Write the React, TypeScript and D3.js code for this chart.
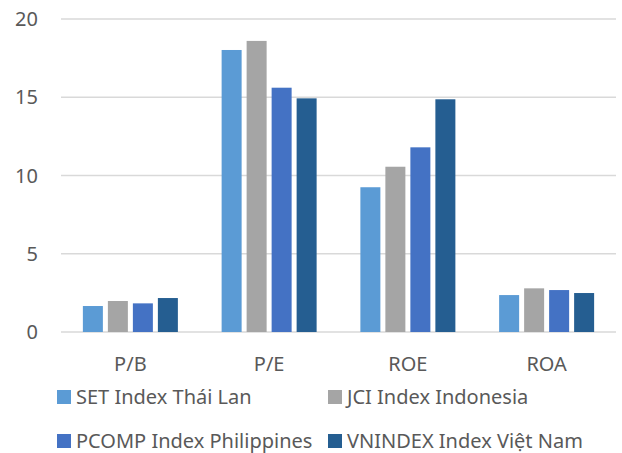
import { useEffect, useRef } from 'react'
import * as d3 from 'd3'

const categories = ['P/B', 'P/E', 'ROE', 'ROA']
const seriesNames = [
  'SET Index Thái Lan',
  'JCI Index Indonesia',
  'PCOMP Index Philippines',
  'VNINDEX Index Việt Nam'
]
const setThai = [1.66, 18.02, 9.25, 2.36]
const jciIndo = [1.98, 18.6, 10.56, 2.79]
const pcompPhil = [1.83, 15.61, 11.8, 2.68]
const vnIndex = [2.17, 14.93, 14.87, 2.49]
const yTicks = [0, 5, 10, 15, 20]
const colors = ['#5B9BD5', '#A5A5A5', '#4472C4', '#255E91']

const W = 622
const H = 453
const FONT = '"Noto Sans", "Open Sans", sans-serif'
const FS = '20px'

export default function App() {
  const svgRef = useRef<SVGSVGElement>(null)

  useEffect(() => {
    if (!svgRef.current) return
    const svg = d3.select(svgRef.current)
    svg.selectAll('*').remove()

    const series = [setThai, jciIndo, pcompPhil, vnIndex]
    const left = 61
    const right = 616
    const top = 19
    const bottom = 332

    const x0 = d3.scaleBand().domain(categories).range([left, right]).padding(0)
    const groupW = 95
    const pad = (x0.bandwidth() - groupW) / 2
    const x1 = d3
      .scaleBand()
      .domain(seriesNames)
      .range([pad, pad + groupW])
      .paddingInner(0.2)
      .paddingOuter(0)
    const y = d3.scaleLinear().domain([0, 20]).range([bottom, top])

    // 격자선
    svg
      .append('g')
      .selectAll('line')
      .data(yTicks)
      .enter()
      .append('line')
      .attr('x1', left)
      .attr('x2', right)
      .attr('y1', d => y(d))
      .attr('y2', d => y(d))
      .attr('stroke', '#D9D9D9')
      .attr('stroke-width', 1.3)

    // y축 레이블
    svg
      .append('g')
      .selectAll('text')
      .data(yTicks)
      .enter()
      .append('text')
      .attr('x', 38)
      .attr('y', d => y(d))
      .attr('dy', '0.35em')
      .attr('text-anchor', 'end')
      .style('font-family', FONT)
      .style('font-size', FS)
      .style('fill', '#595959')
      .text(d => d)

    // 막대
    const groups = svg
      .append('g')
      .selectAll('g')
      .data(categories)
      .enter()
      .append('g')
      .attr('transform', c => `translate(${x0(c)},0)`)

    groups
      .selectAll('rect')
      .data((_, ci) => series.map((s, si) => ({ name: seriesNames[si], v: s[ci], si })))
      .enter()
      .append('rect')
      .attr('x', d => x1(d.name) || 0)
      .attr('y', d => y(d.v))
      .attr('width', x1.bandwidth())
      .attr('height', d => y(0) - y(d.v))
      .attr('fill', d => colors[d.si])

    // x축 레이블
    svg
      .append('g')
      .selectAll('text')
      .data(categories)
      .enter()
      .append('text')
      .attr('x', c => (x0(c) || 0) + x0.bandwidth() / 2)
      .attr('y', 364)
      .attr('dy', '0.35em')
      .attr('text-anchor', 'middle')
      .style('font-family', FONT)
      .style('font-size', FS)
      .style('fill', '#595959')
      .text(c => c)

    // 범례
    const legendPos = [
      { x: 57, y: 397 },
      { x: 328, y: 397 },
      { x: 57, y: 441 },
      { x: 328, y: 441 }
    ]
    const legend = svg
      .append('g')
      .selectAll('g')
      .data(seriesNames)
      .enter()
      .append('g')
      .attr('transform', (_, i) => `translate(${legendPos[i].x},${legendPos[i].y})`)
    legend
      .append('rect')
      .attr('x', 0)
      .attr('y', -7)
      .attr('width', 14)
      .attr('height', 14)
      .attr('fill', (_, i) => colors[i])
    legend
      .append('text')
      .attr('x', 19)
      .attr('y', 0)
      .attr('dy', '0.35em')
      .style('font-family', FONT)
      .style('font-size', FS)
      .style('fill', '#595959')
      .text(d => d)
  }, [])

  return (
    <div style={{ position: 'absolute', left: 0, top: 0 }}>
      <svg ref={svgRef} width={W} height={H} style={{ display: 'block', background: '#fff' }}></svg>
    </div>
  )
}
